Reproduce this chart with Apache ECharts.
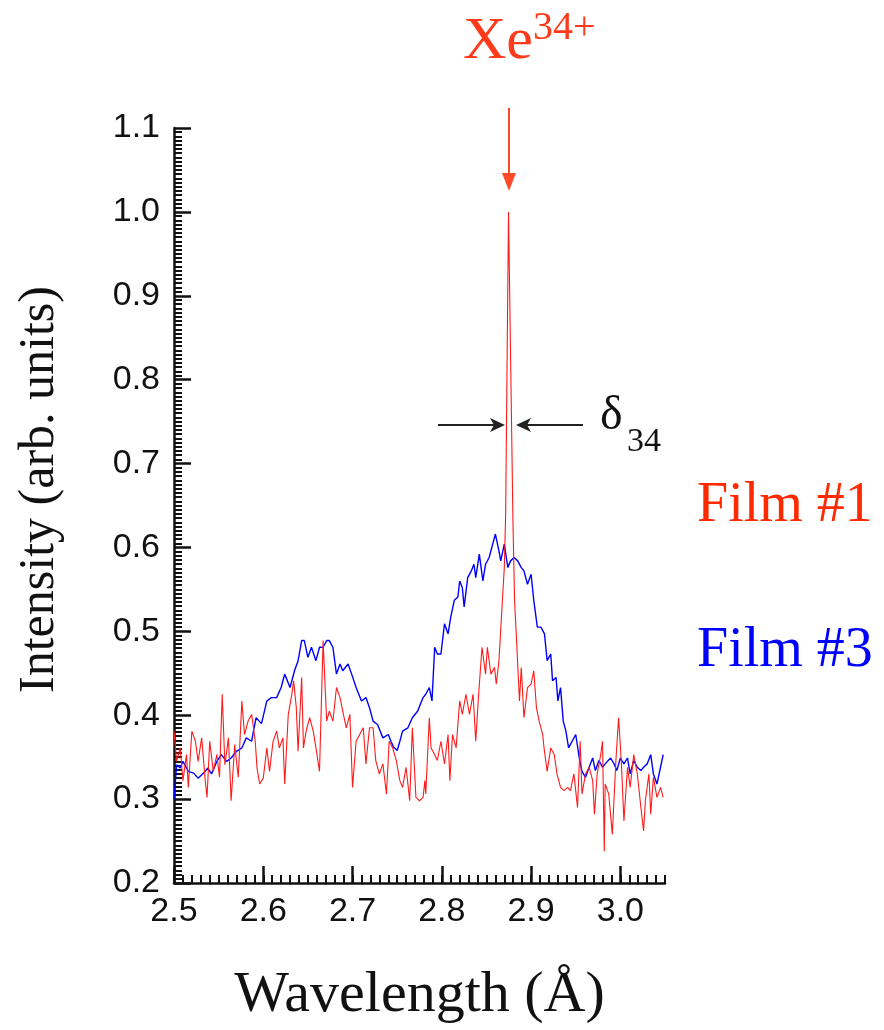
<!DOCTYPE html>
<html>
<head>
<meta charset="utf-8">
<script src="https://cdn.jsdelivr.net/npm/echarts@6/dist/echarts.min.js"></script>
<style>
  html, body { margin: 0; padding: 0; background: #fff; }
  #chart { width: 884px; height: 1030px; }
</style>
</head>
<body>
<div id="chart"></div>
<script>
// ---- Data ----
const xTicks = [2.5, 2.6, 2.7, 2.8, 2.9, 3.0];
const yTicks = [0.2, 0.3, 0.4, 0.5, 0.6, 0.7, 0.8, 0.9, 1.0, 1.1];

// Film #1 (red)
const film1Wavelength = [2.500,2.503,2.507,2.510,2.514,2.516,2.520,2.524,2.527,2.531,2.535,2.537,2.540,2.544,2.548,2.551,2.554,2.557,2.561,2.564,2.568,2.572,2.576,2.579,2.583,2.587,2.591,2.593,2.596,2.600,2.604,2.607,2.611,2.615,2.618,2.622,2.624,2.628,2.632,2.634,2.637,2.639,2.643,2.645,2.648,2.652,2.656,2.659,2.663,2.667,2.671,2.674,2.678,2.682,2.686,2.689,2.693,2.697,2.700,2.704,2.708,2.712,2.715,2.719,2.723,2.726,2.730,2.734,2.738,2.741,2.745,2.749,2.753,2.756,2.760,2.764,2.767,2.771,2.775,2.779,2.781,2.782,2.786,2.788,2.792,2.795,2.799,2.803,2.807,2.809,2.812,2.816,2.820,2.823,2.827,2.831,2.835,2.838,2.841,2.845,2.849,2.851,2.855,2.859,2.861,2.864,2.867,2.870,2.8715,2.8747,2.8797,2.8815,2.883,2.887,2.889,2.892,2.896,2.900,2.903,2.906,2.909,2.913,2.9145,2.918,2.922,2.926,2.929,2.933,2.937,2.941,2.944,2.948,2.952,2.955,2.957,2.961,2.965,2.969,2.971,2.974,2.978,2.980,2.982,2.983,2.987,2.991,2.995,2.998,3.001,3.004,3.008,3.011,3.015,3.019,3.023,3.026,3.028,3.032,3.034,3.037,3.041,3.045,3.048];
const film1Intensity = [0.381,0.345,0.361,0.322,0.353,0.314,0.381,0.369,0.345,0.373,0.322,0.302,0.369,0.333,0.353,0.326,0.425,0.341,0.373,0.298,0.365,0.326,0.417,0.377,0.393,0.401,0.369,0.337,0.318,0.325,0.361,0.333,0.369,0.381,0.361,0.373,0.318,0.401,0.425,0.441,0.409,0.357,0.445,0.361,0.381,0.397,0.381,0.361,0.333,0.489,0.393,0.405,0.393,0.433,0.421,0.405,0.385,0.401,0.314,0.369,0.377,0.385,0.342,0.385,0.385,0.346,0.330,0.342,0.306,0.369,0.361,0.346,0.322,0.314,0.338,0.298,0.385,0.302,0.298,0.302,0.322,0.306,0.397,0.361,0.353,0.346,0.369,0.342,0.377,0.322,0.377,0.361,0.417,0.401,0.425,0.401,0.425,0.369,0.421,0.481,0.449,0.481,0.449,0.457,0.437,0.465,0.521,0.576,0.640,1.000,0.630,0.536,0.505,0.417,0.457,0.397,0.433,0.437,0.453,0.409,0.393,0.377,0.361,0.333,0.361,0.353,0.330,0.314,0.310,0.314,0.310,0.330,0.290,0.369,0.306,0.330,0.338,0.322,0.282,0.330,0.353,0.369,0.238,0.318,0.306,0.258,0.346,0.397,0.346,0.274,0.338,0.314,0.353,0.330,0.290,0.262,0.298,0.330,0.282,0.326,0.302,0.314,0.302];

// Film #3 (blue)
const film3Wavelength = [2.500,2.503,2.507,2.510,2.516,2.522,2.527,2.533,2.538,2.542,2.548,2.553,2.559,2.564,2.570,2.576,2.581,2.587,2.589,2.592,2.598,2.604,2.609,2.615,2.620,2.624,2.630,2.635,2.639,2.643,2.646,2.650,2.654,2.659,2.663,2.667,2.671,2.674,2.678,2.682,2.686,2.689,2.695,2.699,2.704,2.710,2.715,2.719,2.723,2.728,2.734,2.740,2.743,2.746,2.750,2.753,2.756,2.762,2.767,2.773,2.779,2.782,2.786,2.789,2.792,2.795,2.799,2.803,2.807,2.810,2.814,2.818,2.820,2.823,2.825,2.829,2.833,2.836,2.838,2.842,2.846,2.849,2.853,2.857,2.860,2.864,2.866,2.870,2.874,2.877,2.881,2.885,2.889,2.892,2.896,2.900,2.903,2.907,2.911,2.915,2.918,2.922,2.924,2.928,2.930,2.933,2.936,2.939,2.942,2.946,2.950,2.954,2.957,2.961,2.965,2.969,2.972,2.976,2.980,2.983,2.989,2.993,2.996,3.000,3.004,3.008,3.011,3.015,3.019,3.023,3.026,3.030,3.034,3.037,3.041,3.045,3.048];
const film3Intensity = [0.300,0.341,0.337,0.345,0.333,0.331,0.325,0.331,0.337,0.330,0.345,0.353,0.345,0.349,0.357,0.361,0.373,0.369,0.381,0.397,0.390,0.417,0.421,0.421,0.433,0.449,0.433,0.453,0.465,0.489,0.489,0.469,0.481,0.465,0.481,0.481,0.489,0.489,0.481,0.449,0.461,0.453,0.461,0.449,0.433,0.417,0.421,0.409,0.393,0.389,0.373,0.377,0.369,0.362,0.358,0.369,0.381,0.385,0.397,0.405,0.421,0.425,0.433,0.417,0.481,0.473,0.473,0.509,0.497,0.517,0.537,0.541,0.560,0.552,0.529,0.564,0.572,0.580,0.564,0.592,0.560,0.580,0.588,0.604,0.616,0.596,0.584,0.604,0.576,0.584,0.588,0.584,0.576,0.572,0.556,0.568,0.537,0.505,0.505,0.497,0.465,0.473,0.441,0.445,0.417,0.433,0.393,0.381,0.361,0.369,0.377,0.349,0.333,0.326,0.338,0.349,0.334,0.346,0.338,0.342,0.349,0.342,0.334,0.349,0.342,0.349,0.330,0.346,0.338,0.334,0.338,0.342,0.353,0.330,0.318,0.338,0.353];

// ---- Chart ----
const film1Data = film1Wavelength.map((w, i) => [w, film1Intensity[i]]);
const film3Data = film3Wavelength.map((w, i) => [w, film3Intensity[i]]);

const chart = echarts.init(document.getElementById('chart'), null, { renderer: 'canvas' });
const serif = '"Liberation Serif", "Times New Roman", serif';
const sans = '"Liberation Sans", Arial, sans-serif';
const fmt = v => v.toFixed(1);

const option = {
  backgroundColor: '#ffffff',
  animation: false,
  grid: { left: 174, top: 128, width: 491, height: 756, containLabel: false },
  xAxis: [
    {
      type: 'value', position: 'bottom', min: 2.5, max: 3.05, interval: 0.1,
      name: 'Wavelength (Å)', nameLocation: 'middle', nameGap: 84,
      nameTextStyle: { fontFamily: serif, fontSize: 58, color: '#111' },
      axisLine: { show: true, onZero: false, lineStyle: { color: '#111', width: 2.5 } },
      axisTick: { show: true, inside: true, length: 17, customValues: xTicks, lineStyle: { color: '#111', width: 2.5 } },
      axisLabel: { show: true, customValues: xTicks, margin: 12, formatter: fmt, fontFamily: sans, fontSize: 34, color: '#111' },
      splitLine: { show: false }
    },
    {
      type: 'value', position: 'bottom', min: 2.5, max: 3.05, interval: 0.01,
      axisLine: { show: false, onZero: false },
      axisTick: { show: true, inside: true, length: 8, lineStyle: { color: '#111', width: 2 } },
      axisLabel: { show: false },
      splitLine: { show: false }
    }
  ],
  yAxis: {
    type: 'value', min: 0.2, max: 1.1, interval: 0.1,
    name: 'Intensity (arb. units)', nameLocation: 'middle', nameGap: 109,
    nameTextStyle: { fontFamily: serif, fontSize: 50, color: '#111', padding: [0, 0, 0, 32] },
    axisLine: { show: true, onZero: false, lineStyle: { color: '#111', width: 2.5 } },
    axisTick: { show: true, inside: true, length: 17, lineStyle: { color: '#111', width: 2.5 } },
    minorTick: { show: true, splitNumber: 20, length: 8, lineStyle: { color: '#111', width: 2 } },
    axisLabel: { margin: 14, formatter: fmt, fontFamily: sans, fontSize: 34, color: '#111' },
    splitLine: { show: false },
    minorSplitLine: { show: false }
  },
  series: [
    {
      name: 'Film #3', type: 'line', xAxisIndex: 0, data: film3Data,
      showSymbol: false, lineStyle: { color: '#0000ff', width: 1.4 }, z: 2
    },
    {
      name: 'Film #1', type: 'line', xAxisIndex: 0, data: film1Data,
      showSymbol: false, lineStyle: { color: '#ff1a1a', width: 1.1 }, z: 3
    }
  ],
  graphic: [
    // Xe34+ label and arrow
    { type: 'text', left: 463, top: 12, style: { text: 'Xe', font: '60px ' + serif, fill: '#ff3a1a' } },
    { type: 'text', left: 533, top: 8, style: { text: '34+', font: '40px ' + serif, fill: '#ff3a1a' } },
    { type: 'line', shape: { x1: 509, y1: 108, x2: 509, y2: 178 }, style: { stroke: '#ff4a2a', lineWidth: 2 } },
    { type: 'polygon', shape: { points: [[502, 173], [516, 173], [509, 191]] }, style: { fill: '#ff4a2a' } },
    // delta arrows
    { type: 'line', shape: { x1: 438, y1: 425, x2: 496, y2: 425 }, style: { stroke: '#222', lineWidth: 2 } },
    { type: 'polygon', shape: { points: [[505, 425], [490, 418], [494, 425], [490, 432]] }, style: { fill: '#222' } },
    { type: 'line', shape: { x1: 583, y1: 425, x2: 525, y2: 425 }, style: { stroke: '#222', lineWidth: 2 } },
    { type: 'polygon', shape: { points: [[516, 425], [531, 418], [527, 425], [531, 432]] }, style: { fill: '#222' } },
    { type: 'text', left: 600, top: 392, style: { text: 'δ', font: '48px ' + serif, fill: '#111' } },
    { type: 'text', left: 627, top: 425, style: { text: '34', font: '34px ' + serif, fill: '#111' } },
    // series labels
    { type: 'text', left: 697, top: 478, style: { text: 'Film #1', font: '56px ' + serif, fill: '#ff2a00' } },
    { type: 'text', left: 697, top: 623, style: { text: 'Film #3', font: '56px ' + serif, fill: '#0000ff' } }
  ]
};
chart.setOption(option);
</script>
</body>
</html>
